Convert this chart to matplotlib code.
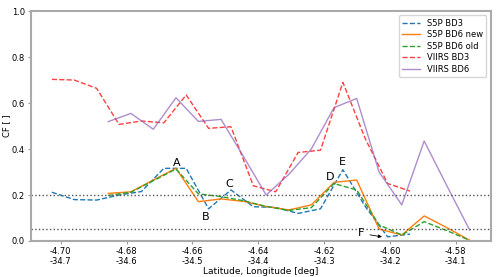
import matplotlib
matplotlib.use("Agg")
import matplotlib.pyplot as plt

# latitude of the sample points (BD3 and BD6 grids are offset by half a step)
lat_bd3 = [-4.7027, -4.6959, -4.6891, -4.6823, -4.6755, -4.6687, -4.6619, -4.6551, -4.6483,
           -4.6415, -4.6347, -4.6279, -4.6211, -4.6143, -4.6075, -4.6007, -4.5939]
lat_bd6 = [-4.6856, -4.6787, -4.6719, -4.6650, -4.6582, -4.6513, -4.6444, -4.6376, -4.6307,
           -4.6239, -4.6170, -4.6101, -4.6033, -4.5964, -4.5896, -4.5827, -4.5758]

s5p_bd3 = [0.212, 0.180, 0.178, 0.200, 0.215, 0.316, 0.316, 0.140, 0.222,
           0.149, 0.146, 0.120, 0.140, 0.310, 0.150, 0.018, 0.030]
s5p_bd6_new = [0.207, 0.214, 0.265, 0.316, 0.171, 0.183, 0.172, 0.150, 0.135,
               0.157, 0.255, 0.265, 0.052, 0.026, 0.109, 0.058, 0.003]
s5p_bd6_old = [0.198, 0.212, 0.262, 0.313, 0.205, 0.193, 0.175, 0.150, 0.133,
               0.145, 0.250, 0.222, 0.070, 0.026, 0.084, 0.045, 0.003]
viirs_bd3 = [0.703, 0.700, 0.664, 0.507, 0.522, 0.514, 0.635, 0.490, 0.497,
             0.240, 0.214, 0.385, 0.395, 0.690, 0.445, 0.250, 0.217]
viirs_bd6 = [0.519, 0.555, 0.486, 0.623, 0.520, 0.529, 0.365, 0.200, 0.290,
             0.400, 0.580, 0.620, 0.300, 0.157, 0.435, 0.240, 0.048]

tick_lat = [-4.70, -4.68, -4.66, -4.64, -4.62, -4.60, -4.58]
tick_lon = [-34.7, -34.6, -34.5, -34.4, -34.3, -34.2, -34.1]

# labels (text, lat, cf)
labels = [("A", -4.6648, 0.340), ("B", -4.6559, 0.106), ("C", -4.6488, 0.250),
          ("D", -4.6183, 0.278), ("E", -4.6144, 0.342)]
f_text = (-4.6087, 0.033)
f_point = (-4.6016, 0.016)

fig = plt.figure(figsize=(5, 2.77), dpi=100)
ax = fig.add_axes([0.062, 0.130, 0.919, 0.830])

ax.plot(lat_bd3, s5p_bd3, color="tab:blue", linestyle="--", linewidth=1, label="S5P BD3")
ax.plot(lat_bd6, s5p_bd6_new, color="tab:orange", linestyle="-", linewidth=1, label="S5P BD6 new")
ax.plot(lat_bd6, s5p_bd6_old, color="tab:green", linestyle="--", linewidth=1, label="S5P BD6 old")
ax.plot(lat_bd3, viirs_bd3, color="red", linestyle="--", linewidth=1, alpha=0.75, label="VIIRS BD3")
ax.plot(lat_bd6, viirs_bd6, color="tab:purple", linestyle="-", linewidth=1, alpha=0.75, label="VIIRS BD6")

ax.axhline(0.2, color="#555555", linestyle=":", linewidth=1)
ax.axhline(0.05, color="#555555", linestyle=":", linewidth=1)

for txt, x, y in labels:
    ax.text(x, y, txt, fontsize=8, ha="center", va="center")
ax.annotate("F", xy=f_point, xytext=f_text, fontsize=8, ha="center", va="center",
            arrowprops=dict(arrowstyle="-|>", color="black", lw=0.6, mutation_scale=5))

ax.set_ylim(0, 1.0)
ax.set_xticks(tick_lat)
ax.set_xticklabels([f"{a:.2f}\n{b:.1f}" for a, b in zip(tick_lat, tick_lon)], linespacing=1.05)
ax.set_yticks([0.0, 0.2, 0.4, 0.6, 0.8, 1.0])
ax.tick_params(labelsize=6, length=2.5, pad=2, color="#999999")
ax.set_xlabel("Latitude, Longitude [deg]", fontsize=6.5, labelpad=1)
ax.set_ylabel("CF [ ]", fontsize=6)
ax.yaxis.set_label_coords(-0.043, 0.5)

for sp in ax.spines.values():
    sp.set_color("#aaaaaa")
    sp.set_linewidth(1.5)

ax.legend(loc="upper right", fontsize=6, handlelength=2.2, labelspacing=0.3, borderpad=0.4)

fig.savefig("out.png", dpi=100)
